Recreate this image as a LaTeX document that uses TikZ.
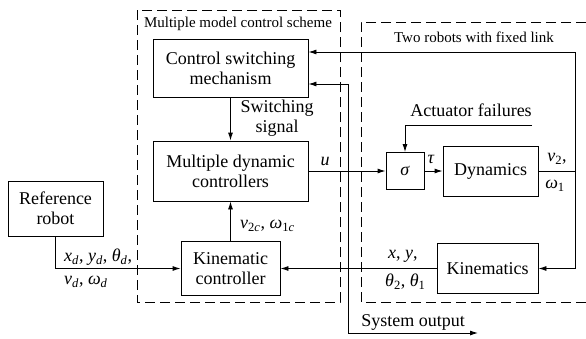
\documentclass[tikz,border=0pt]{standalone}
\usepackage{fontspec}
\setmainfont{Liberation Serif}
\usetikzlibrary{arrows.meta}
\newcommand{\iv}[1]{\textit{#1}}
\newcommand{\isub}[1]{\textsubscript{#1}}
\begin{document}
\begin{tikzpicture}[x=1pt,y=-1pt,
  font=\fontsize{18}{20}\selectfont,
  blk/.style={draw,line width=0.9pt,inner sep=0pt,align=center},
  conn/.style={line width=0.9pt},
  arr/.style={line width=0.9pt,-{Latex[length=8pt,width=5pt]}},
  dsh/.style={line width=0.9pt,dash pattern=on 10pt off 5pt},
  small/.style={font=\fontsize{15}{17}\selectfont},
  lbl/.style={inner sep=0pt}]
\useasboundingbox (0,0) rectangle (586,338);
% dashed regions
\draw[dsh] (137,10) rectangle (340,302);
\draw[dsh] (586,22) -- (361,22) -- (361,302) -- (586,302);
\node[small,lbl] (t1) at (238,24) {Multiple model control scheme};
\node[small,lbl] (t2) at (474,37) {Two robots with fixed link};
% blocks
\node[blk,minimum width=155pt,minimum height=58pt] (csm) at (230.5,68) {Control switching\\mechanism};
\node[blk,minimum width=155pt,minimum height=60pt] (mdc) at (230.5,171) {Multiple dynamic\\controllers};
\node[blk,minimum width=99pt,minimum height=54pt] (kc) at (230.5,268.5) {Kinematic\\controller};
\node[blk,minimum width=95pt,minimum height=55pt] (ref) at (55.5,208.5) {Reference\\robot};
\node[blk,minimum width=38pt,minimum height=37pt] (sig) at (405,171) {\iv{σ}};
\node[blk,minimum width=95pt,minimum height=50pt] (dyn) at (490.5,171) {Dynamics};
\node[blk,minimum width=101pt,minimum height=50pt] (kin) at (487.5,268.5) {Kinematics};
% coordinates
\coordinate (jr) at (575,171);
\coordinate (topr) at (575,52);
\coordinate (jl) at (348,268.5);
\coordinate (fb) at (348,84);
\coordinate (so) at (348,333);
\coordinate (soend) at (478,333);
\coordinate (af) at (532,125);
% connectors
\draw[arr] (csm.south) -- (mdc.north);
\draw[arr] (kc.north) -- (mdc.south);
\draw[arr] (ref.south) |- (kc.west);
\draw[arr] (mdc.east) -- (sig.west);
\draw[arr] (sig.east) -- (dyn.west);
\draw[conn] (dyn.east) -- (jr);
\draw[arr] (jr) |- (csm.east |- topr);
\draw[arr] (jr) |- (kin.east);
\draw[arr] (kin.west) -- (kc.east);
\draw[arr] (jl) -- (fb) -- (csm.east |- fb);
\draw[arr] (jl) -- (so) -- (soend);
\draw[arr] (af) -| (sig.north);
% labels
\node[lbl,align=center] (sw) at (277,118) {Switching\\signal};
\node[lbl] (lu) at (325,161) {\iv{u}};
\node[lbl] (ltau) at (431,159) {\iv{τ}};
\node[lbl] (lv2) at (557,159) {\iv{v}\isub{2},};
\node[lbl] (lw1) at (555,186) {\iv{ω}\isub{1}};
\node[lbl,anchor=west] (lvc) at (240,226) {\iv{v}\isub{2\iv{c}}, \iv{ω}\isub{1\iv{c}}};
\node[lbl,anchor=west] (lxd) at (64,257) {\iv{x}\isub{\iv{d}}, \iv{y}\isub{\iv{d}}, \iv{θ}\isub{\iv{d}},};
\node[lbl,anchor=west] (lvd) at (64,282) {\iv{v}\isub{\iv{d}}, \iv{ω}\isub{\iv{d}}};
\node[lbl,anchor=west] (lxy) at (388,256) {\iv{x}, \iv{y},};
\node[lbl,anchor=west] (lth) at (385,282) {\iv{θ}\isub{2}, \iv{θ}\isub{1}};
\node[lbl] (lso) at (413,322) {System output};
\node[lbl] (laf) at (471,110) {Actuator failures};
\end{tikzpicture}
\end{document}
